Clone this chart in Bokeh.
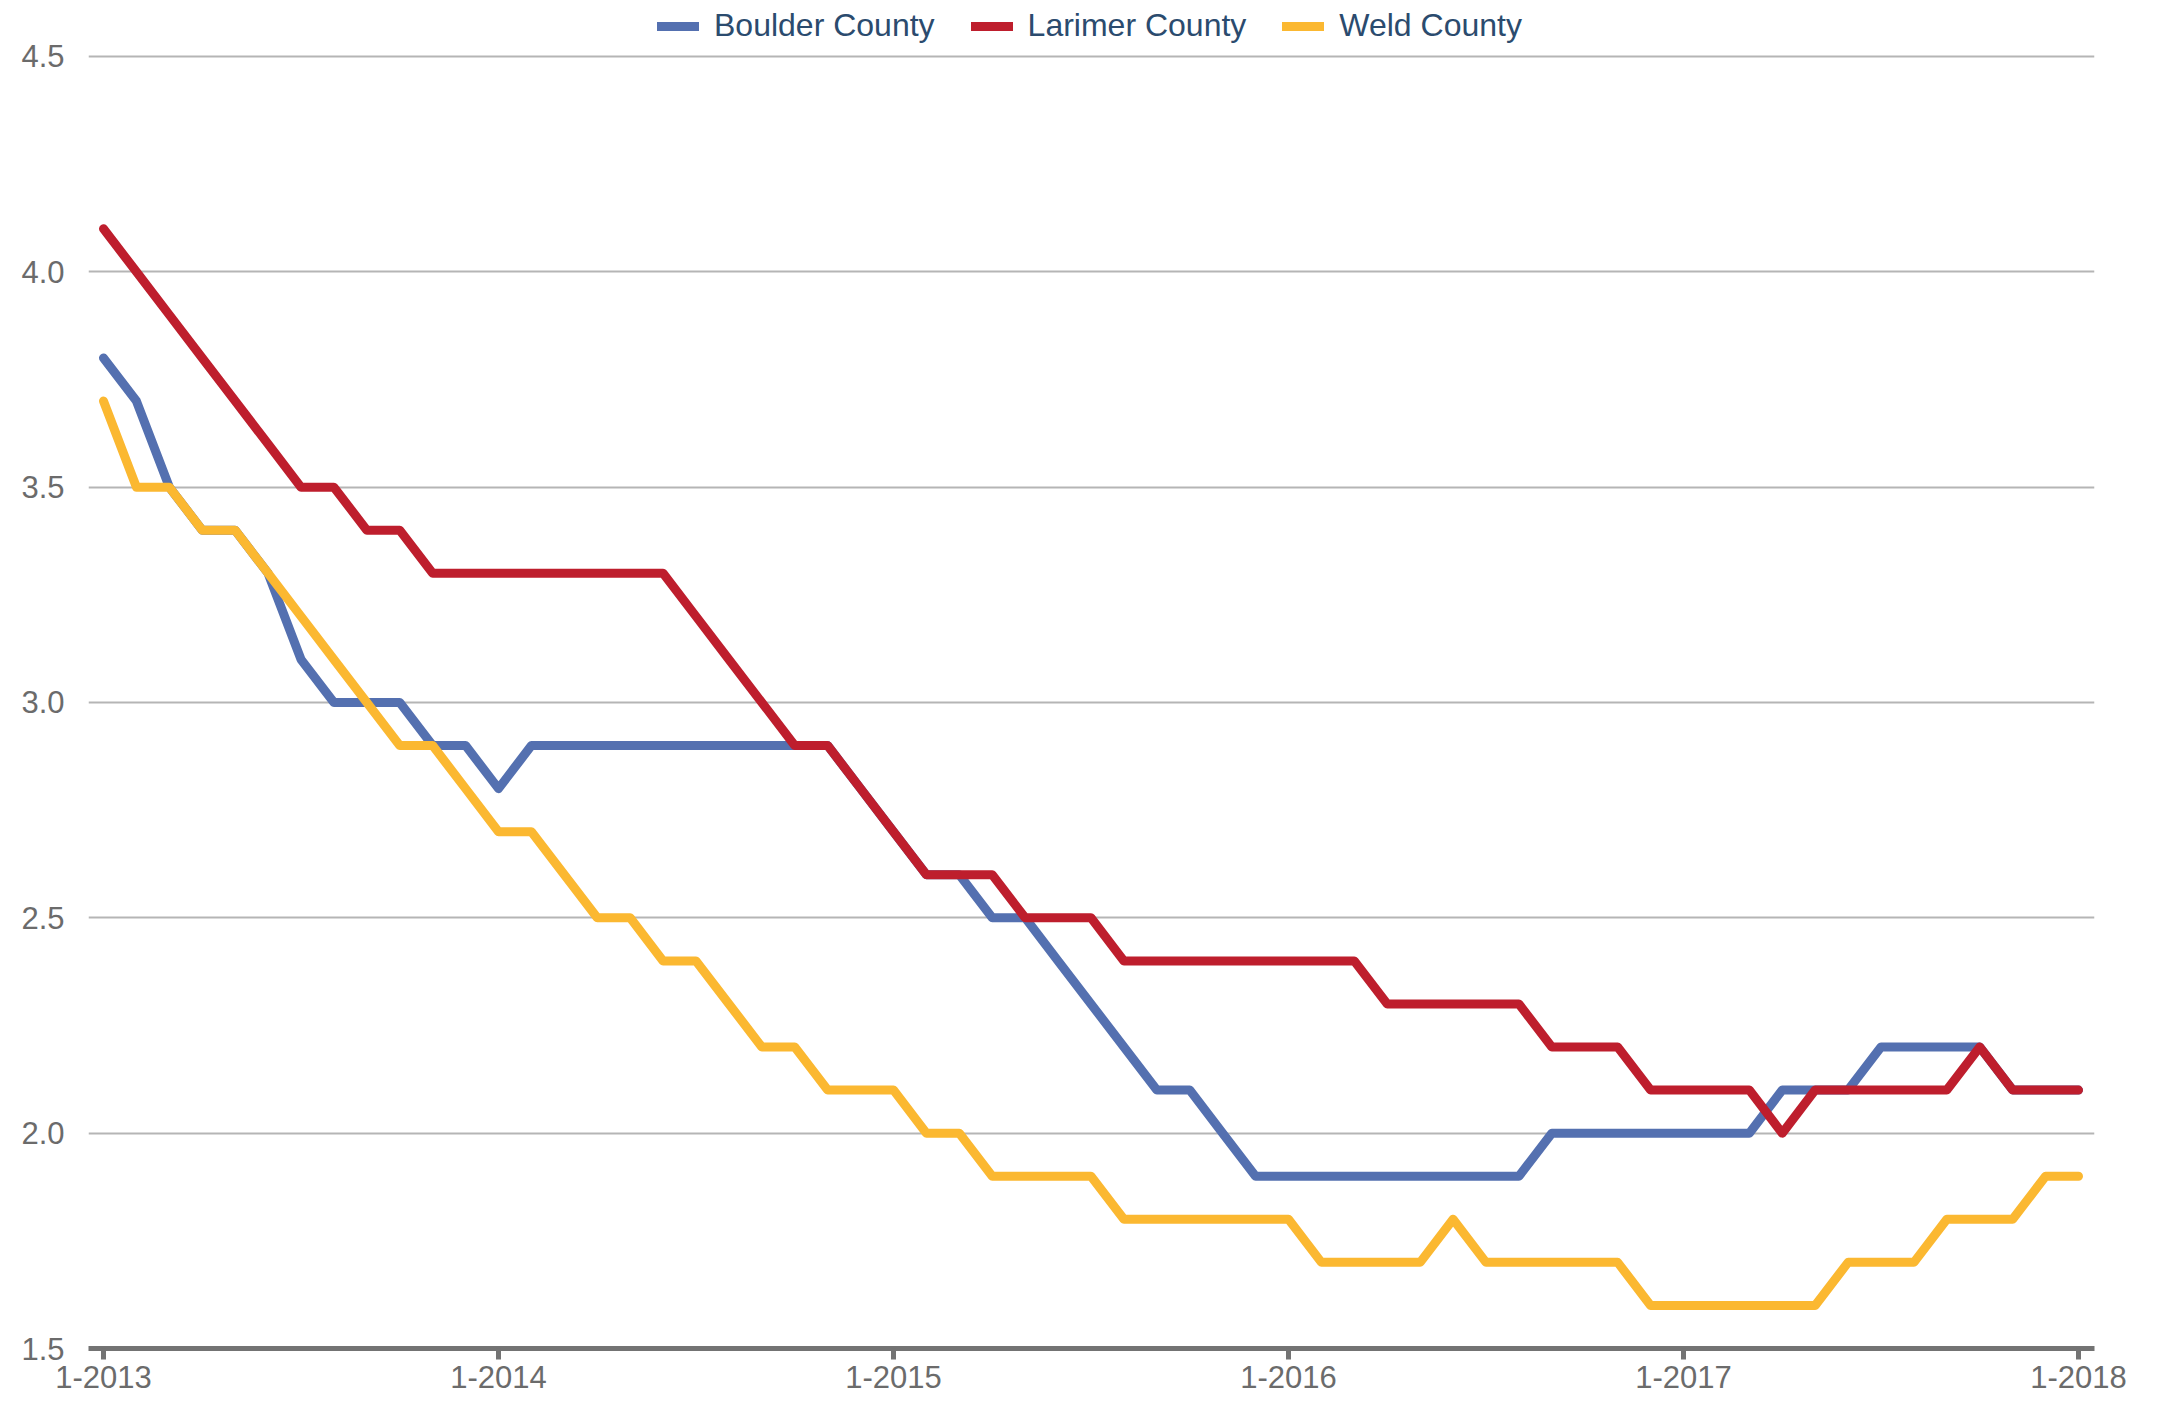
from bokeh.plotting import figure
from bokeh.models import Range1d, FixedTicker, PrintfTickFormatter, Legend, LegendItem, ColumnDataSource
from bokeh.embed import file_html
from bokeh.resources import INLINE

# Monthly index 0 = Jan 2013 ... 60 = Jan 2018
months = list(range(61))
boulder = [3.8, 3.7, 3.5, 3.4, 3.4, 3.3, 3.1, 3.0, 3.0, 3.0,
           2.9, 2.9, 2.8, 2.9, 2.9, 2.9, 2.9, 2.9, 2.9, 2.9,
           2.9, 2.9, 2.9, 2.8, 2.7, 2.6, 2.6, 2.5, 2.5, 2.4,
           2.3, 2.2, 2.1, 2.1, 2.0, 1.9, 1.9, 1.9, 1.9, 1.9,
           1.9, 1.9, 1.9, 1.9, 2.0, 2.0, 2.0, 2.0, 2.0, 2.0,
           2.0, 2.1, 2.1, 2.1, 2.2, 2.2, 2.2, 2.2, 2.1, 2.1, 2.1]
larimer = [4.1, 4.0, 3.9, 3.8, 3.7, 3.6, 3.5, 3.5, 3.4, 3.4,
           3.3, 3.3, 3.3, 3.3, 3.3, 3.3, 3.3, 3.3, 3.2, 3.1,
           3.0, 2.9, 2.9, 2.8, 2.7, 2.6, 2.6, 2.6, 2.5, 2.5,
           2.5, 2.4, 2.4, 2.4, 2.4, 2.4, 2.4, 2.4, 2.4, 2.3,
           2.3, 2.3, 2.3, 2.3, 2.2, 2.2, 2.2, 2.1, 2.1, 2.1,
           2.1, 2.0, 2.1, 2.1, 2.1, 2.1, 2.1, 2.2, 2.1, 2.1, 2.1]
weld = [3.7, 3.5, 3.5, 3.4, 3.4, 3.3, 3.2, 3.1, 3.0, 2.9,
        2.9, 2.8, 2.7, 2.7, 2.6, 2.5, 2.5, 2.4, 2.4, 2.3,
        2.2, 2.2, 2.1, 2.1, 2.1, 2.0, 2.0, 1.9, 1.9, 1.9,
        1.9, 1.8, 1.8, 1.8, 1.8, 1.8, 1.8, 1.7, 1.7, 1.7,
        1.7, 1.8, 1.7, 1.7, 1.7, 1.7, 1.7, 1.6, 1.6, 1.6,
        1.6, 1.6, 1.6, 1.7, 1.7, 1.7, 1.8, 1.8, 1.8, 1.9, 1.9]

series_names = ["Boulder County", "Larimer County", "Weld County"]
series_colors = ["#5470b0", "#be1e2d", "#fbb831"]
x_tick_positions = [0, 12, 24, 36, 48, 60]
x_tick_labels = ["1-2013", "1-2014", "1-2015", "1-2016", "1-2017", "1-2018"]
y_ticks = [1.5, 2.0, 2.5, 3.0, 3.5, 4.0, 4.5]

FONT = "Liberation Sans"

p = figure(width=2143, height=1394, output_backend="svg", toolbar_location=None,
           x_range=Range1d(-0.456, 60.486), y_range=Range1d(1.5, 4.63),
           min_border_left=88, min_border_right=49, min_border_top=0, min_border_bottom=46)
p.outline_line_color = None
p.background_fill_color = "white"
p.border_fill_color = "white"

src = ColumnDataSource(dict(x=months, boulder=boulder, larimer=larimer, weld=weld))
renderers = []
for key, color in zip(["boulder", "larimer", "weld"], series_colors):
    r = p.line("x", key, source=src, line_color=color, line_width=9,
               line_join="round", line_cap="round")
    renderers.append(r)

p.xgrid.visible = False
p.ygrid.ticker = FixedTicker(ticks=y_ticks)
p.ygrid.grid_line_color = "#b5b5b5"
p.ygrid.grid_line_width = 2

p.yaxis.ticker = FixedTicker(ticks=y_ticks)
p.yaxis.formatter = PrintfTickFormatter(format="%.1f")
p.yaxis.axis_line_color = None
p.yaxis.major_tick_line_color = None
p.yaxis.minor_tick_line_color = None
p.yaxis.major_tick_out = 0
p.yaxis.major_tick_in = 0
p.yaxis.major_label_standoff = 24
p.yaxis.major_label_text_font = FONT
p.yaxis.major_label_text_font_size = "31px"
p.yaxis.major_label_text_color = "#6b6b6b"

p.xaxis.ticker = FixedTicker(ticks=x_tick_positions)
p.xaxis.major_label_overrides = {t: l for t, l in zip(x_tick_positions, x_tick_labels)}
p.xaxis.axis_line_color = "#737373"
p.xaxis.axis_line_width = 5
p.xaxis.major_tick_line_color = "#737373"
p.xaxis.major_tick_line_width = 5
p.xaxis.major_tick_in = 0
p.xaxis.major_tick_out = 11
p.xaxis.minor_tick_line_color = None
p.xaxis.major_label_standoff = 6
p.xaxis.major_label_text_font = FONT
p.xaxis.major_label_text_font_size = "31px"
p.xaxis.major_label_text_color = "#6b6b6b"

legend = Legend(items=[LegendItem(label=n, renderers=[r]) for n, r in zip(series_names, renderers)],
                orientation="horizontal", location=(569, 1304),
                glyph_width=42, glyph_height=10, label_standoff=15, spacing=36,
                padding=0, margin=0, label_height=30,
                label_text_font=FONT, label_text_font_size="32px", label_text_color="#2b4b6e",
                background_fill_alpha=0, border_line_color=None)
p.add_layout(legend, "center")

open("out.html", "w").write(file_html(p, INLINE))
